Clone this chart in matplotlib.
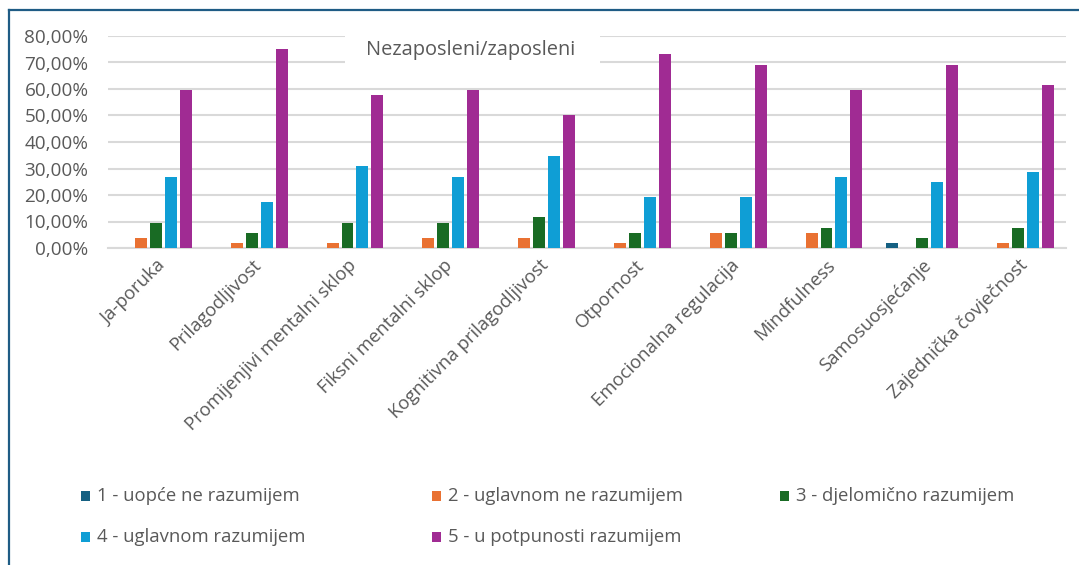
import matplotlib
matplotlib.use("Agg")
import matplotlib.pyplot as plt
from matplotlib.ticker import FuncFormatter, MultipleLocator
from matplotlib.patches import Rectangle
from matplotlib.lines import Line2D
import numpy as np

plt.rcParams['font.family'] = ['Open Sans', 'DejaVu Sans']

categories = ["Ja-poruka", "Prilagodljivost", "Promijenjivi mentalni sklop",
              "Fiksni mentalni sklop", "Kognitivna prilagodljivost", "Otpornost",
              "Emocionalna regulacija", "Mindfulness", "Samosuosjećanje",
              "Zajednička čovječnost"]
series_names = ["1 - uopće ne razumijem", "2 - uglavnom ne razumijem",
                "3 - djelomično razumijem", "4 - uglavnom razumijem",
                "5 - u potpunosti razumijem"]
s1 = [0, 0, 0, 0, 0, 0, 0, 0, 1.92, 0]
s2 = [3.85, 1.92, 1.92, 3.85, 3.85, 1.92, 5.77, 5.77, 0, 1.92]
s3 = [9.62, 5.77, 9.62, 9.62, 11.54, 5.77, 5.77, 7.69, 3.85, 7.69]
s4 = [26.92, 17.31, 30.77, 26.92, 34.62, 19.23, 19.23, 26.92, 25.00, 28.85]
s5 = [59.62, 75.00, 57.69, 59.62, 50.00, 73.08, 69.23, 59.62, 69.23, 61.54]
series = [s1, s2, s3, s4, s5]
colors = ["#156082", "#E97132", "#196B24", "#0F9ED5", "#A02B93"]
title = "Nezaposleni/zaposleni"

W, H = 1079, 565
fig = plt.figure(figsize=(W / 100, H / 100), dpi=100)
ax = fig.add_axes([108 / W, 1 - 248 / H, (1066 - 108) / W, (248 - 36) / H])

x = np.arange(len(categories))
step = 0.156
bw = 0.125
for i, (vals, c, name) in enumerate(zip(series, colors, series_names)):
    ax.bar(x + (i - 2) * step, vals, width=bw, color=c, label=name, zorder=3,
           linewidth=0)

ax.set_xlim(-0.5, len(categories) - 0.5)
ax.set_ylim(0, 80)
ax.yaxis.set_major_locator(MultipleLocator(10))
ax.yaxis.set_major_formatter(FuncFormatter(lambda v, p: f"{v:.2f}%".replace('.', ',')))
ax.grid(axis='y', color='#D9D9D9', linewidth=1.5, zorder=0)
ax.set_axisbelow(True)
for sp in ['top', 'right', 'left']:
    ax.spines[sp].set_visible(False)
ax.spines['bottom'].set_color('#D9D9D9')
ax.spines['bottom'].set_linewidth(1.5)
ax.tick_params(axis='y', length=0, pad=14, labelsize=13.6, labelcolor='#595959')
ax.tick_params(axis='x', length=0, pad=6, labelsize=13.3, labelcolor='#595959')
ax.set_xticks(x)
ax.set_xticklabels(categories, rotation=45, ha='right', rotation_mode='anchor')

# title with white box
rect = Rectangle((345 / W, 1 - 66 / H), 255 / W, 36 / H, transform=fig.transFigure,
                 facecolor='white', edgecolor='none', zorder=2, clip_on=False)
ax.add_patch(rect)
ax.text(471 / W, 1 - 50 / H, title, transform=fig.transFigure, ha='center',
        va='center', fontsize=14.4, color='#595959', zorder=4)

# legend
leg_pos = [(85, 496), (436, 496), (784, 496), (85, 537), (436, 537)]
for (px, py), name, c in zip(leg_pos, series_names, colors):
    fig.patches.append(Rectangle(((px - 4) / W, 1 - (py + 5) / H), 9 / W, 10 / H,
                                 transform=fig.transFigure, facecolor=c,
                                 edgecolor='none'))
    fig.text((px + 12) / W, 1 - py / H, name, ha='left', va='center',
             fontsize=13.3, color='#595959')

# border lines
fig.add_artist(Line2D([8.5 / W, 8.5 / W], [0, 1 - 9.5 / H], transform=fig.transFigure,
                      color='#1F5C85', linewidth=1.6))
fig.add_artist(Line2D([8.5 / W, 1], [1 - 9.5 / H, 1 - 9.5 / H], transform=fig.transFigure,
                      color='#1F5C85', linewidth=1.6))

fig.savefig("out.png", dpi=100, facecolor='white')
